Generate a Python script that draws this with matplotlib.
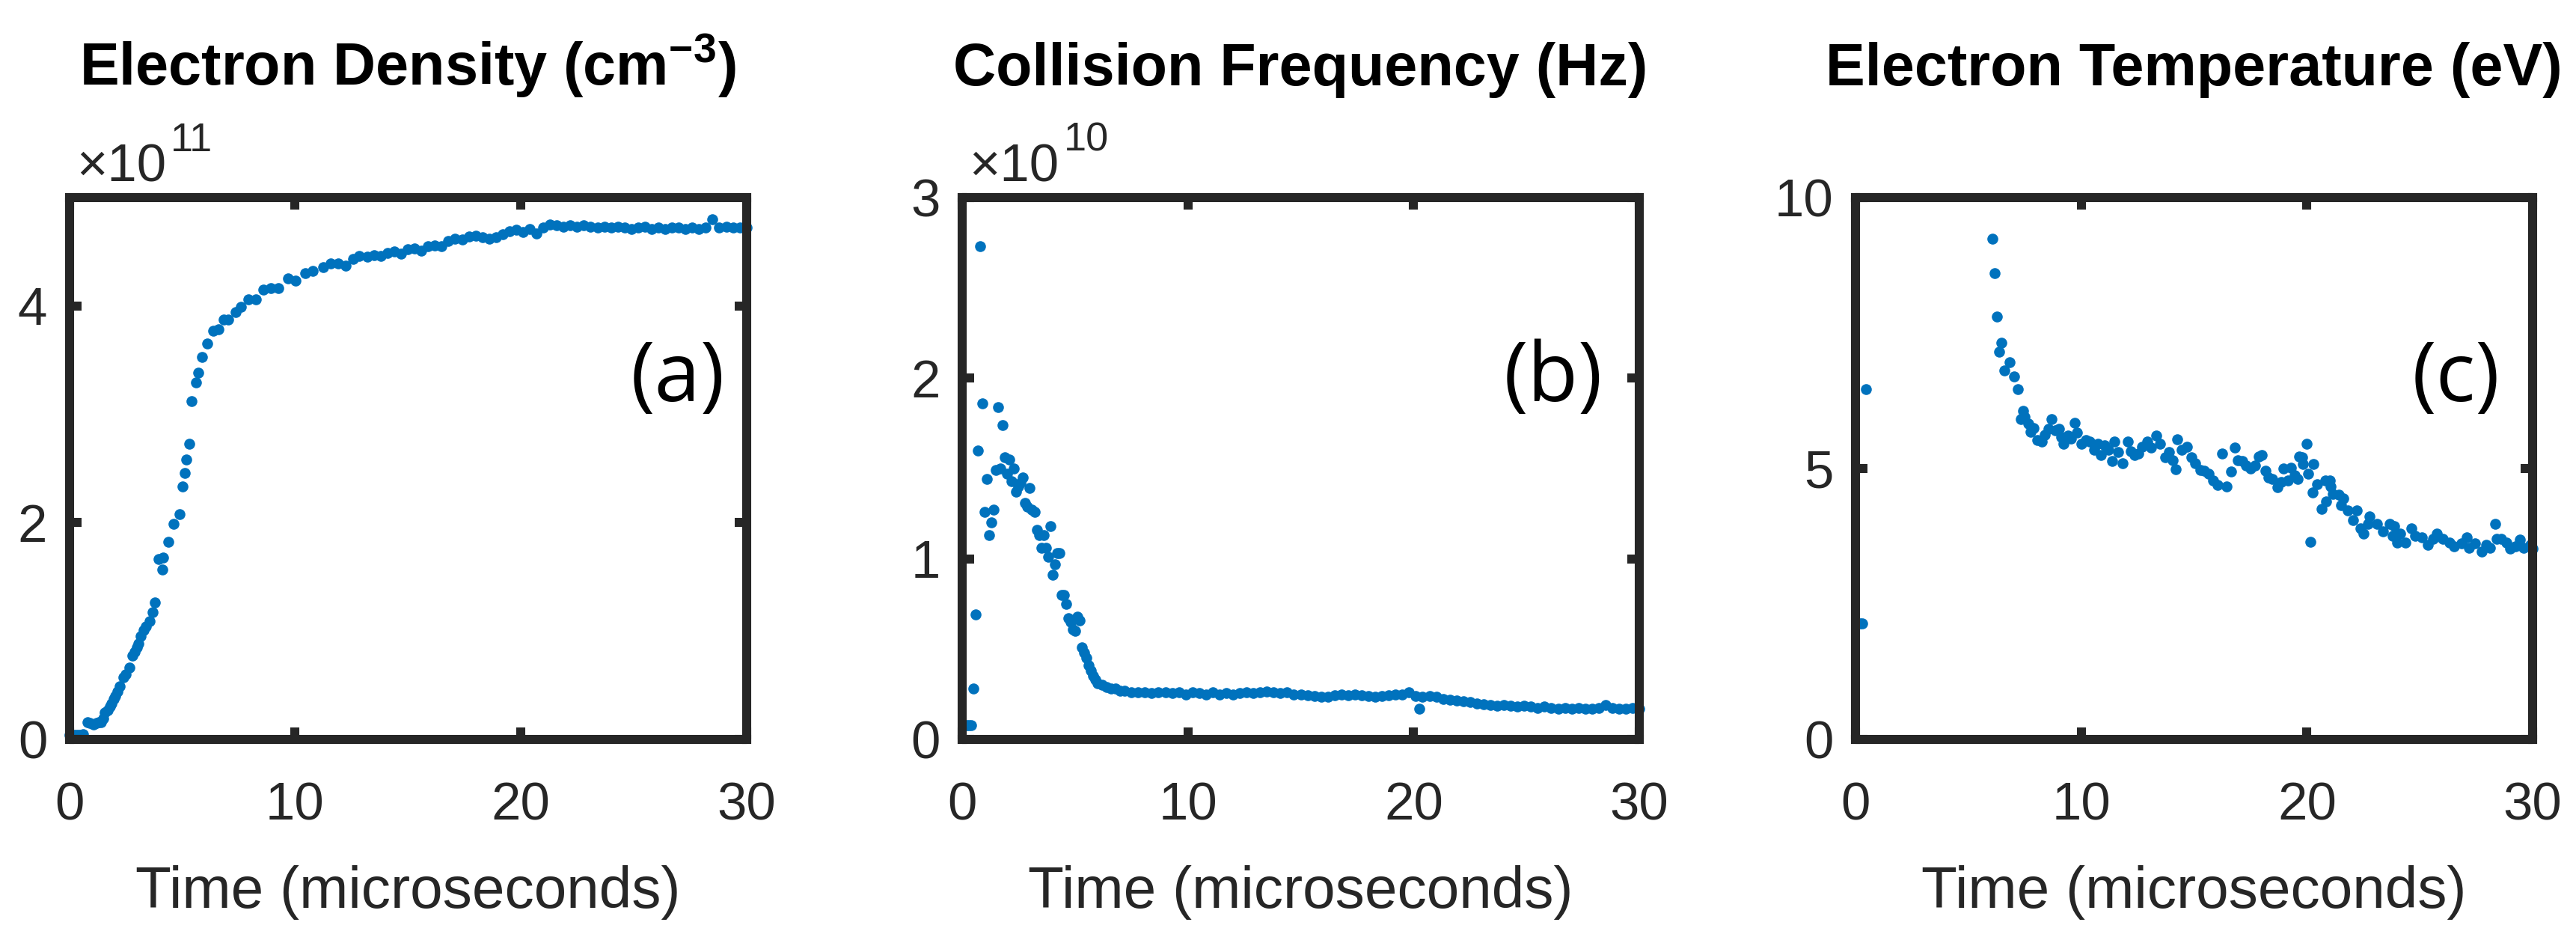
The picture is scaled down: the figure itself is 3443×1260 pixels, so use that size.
import numpy as np
import matplotlib
matplotlib.use('Agg')
import matplotlib.pyplot as plt

plt.rcParams['font.family'] = ['Liberation Sans', 'DejaVu Sans']
plt.rcParams['mathtext.fontset'] = 'custom'
plt.rcParams['mathtext.rm'] = 'Liberation Sans'
plt.rcParams['mathtext.bf'] = 'Liberation Sans:bold'

# Data
# (a) electron density, units of 1e11 cm^-3
time_a = [0.0, 0.1, 0.2, 0.3, 0.4, 0.5, 0.6, 0.8, 0.9, 1.08, 1.2, 1.3, 1.4, 1.5, 1.58,
          1.7, 1.8, 1.88, 1.96, 2.05, 2.13, 2.25, 2.4, 2.5, 2.67, 2.79, 2.9, 3.0, 3.07,
          3.18, 3.29, 3.4, 3.57, 3.68, 3.79, 3.95, 4.12, 4.16, 4.39, 4.62, 4.89, 5.03,
          5.11, 5.19, 5.32, 5.41, 5.61, 5.72, 5.89, 6.11, 6.38, 6.61, 6.83, 7.05, 7.38,
          7.6, 7.93, 8.26, 8.6, 8.93, 9.26, 9.7, 10.03, 10.47, 10.8, 11.25, 11.58, 11.9,
          12.24, 12.58, 12.85, 13.2, 13.5, 13.8, 14.1, 14.4, 14.7, 15.0, 15.3, 15.6,
          15.9, 16.2, 16.5, 16.8, 17.1, 17.4, 17.7, 18.0, 18.3, 18.6, 18.9, 19.2, 19.5,
          19.8, 20.1, 20.4, 20.7, 21.0, 21.3, 21.6, 21.9, 22.2, 22.5, 22.8, 23.1, 23.4,
          23.7, 24.0, 24.3, 24.6, 24.9, 25.2, 25.5, 25.8, 26.1, 26.4, 26.7, 27.0, 27.3,
          27.6, 27.9, 28.2, 28.5, 28.8, 29.1, 29.4, 29.7, 30.0]
density_e11 = [0.04, 0.04, 0.04, 0.04, 0.04, 0.04, 0.05, 0.16, 0.15, 0.14, 0.15, 0.16,
               0.16, 0.19, 0.25, 0.27, 0.30, 0.33, 0.37, 0.40, 0.44, 0.49, 0.57, 0.60,
               0.66, 0.77, 0.81, 0.85, 0.88, 0.95, 1.01, 1.04, 1.09, 1.17, 1.26, 1.66,
               1.57, 1.68, 1.82, 1.99, 2.08, 2.33, 2.46, 2.58, 2.73, 3.12, 3.29, 3.38,
               3.53, 3.65, 3.77, 3.78, 3.87, 3.87, 3.94, 3.99, 4.06, 4.06, 4.15, 4.16,
               4.16, 4.25, 4.23, 4.30, 4.32, 4.36, 4.39, 4.39, 4.37, 4.43, 4.46, 4.45,
               4.47, 4.46, 4.49, 4.50, 4.48, 4.52, 4.53, 4.51, 4.55, 4.56, 4.55, 4.60,
               4.62, 4.61, 4.64, 4.65, 4.63, 4.62, 4.63, 4.66, 4.69, 4.70, 4.68, 4.71,
               4.67, 4.72, 4.75, 4.74, 4.73, 4.74, 4.73, 4.74, 4.73, 4.72, 4.73, 4.72,
               4.73, 4.72, 4.71, 4.72, 4.73, 4.71, 4.72, 4.71, 4.72, 4.72, 4.71, 4.72,
               4.71, 4.72, 4.80, 4.72, 4.73, 4.72, 4.72, 4.72]

# (b) collision frequency, units of 1e10 Hz
time_b = [0.1, 0.2, 0.3, 0.4, 0.5, 0.6, 0.7, 0.8, 0.9, 1.0, 1.1, 1.2, 1.3, 1.4, 1.5,
          1.6, 1.7, 1.8, 1.9, 2.0, 2.1, 2.2, 2.3, 2.4, 2.5, 2.6, 2.7, 2.8, 2.9, 3.0,
          3.1, 3.2, 3.3, 3.4, 3.5, 3.6, 3.7, 3.8, 3.9, 4.0, 4.1, 4.2, 4.3, 4.4, 4.5,
          4.6, 4.7, 4.8, 4.9, 5.0, 5.1, 5.2, 5.3, 5.4, 5.5, 5.6, 5.7, 5.8, 5.9, 6.0,
          6.2, 6.4, 6.6, 6.8, 7.0, 7.2, 7.5, 7.8, 8.1, 8.4, 8.7, 9.0, 9.3, 9.6, 9.9,
          10.2, 10.5, 10.8, 11.1, 11.4, 11.7, 12.0, 12.3, 12.6, 12.9, 13.2, 13.5,
          13.8, 14.1, 14.4, 14.7, 15.0, 15.3, 15.6, 15.9, 16.2, 16.5, 16.8, 17.1,
          17.4, 17.7, 18.0, 18.3, 18.6, 18.9, 19.2, 19.5, 19.8, 20.1, 20.25, 20.4,
          20.7, 21.0, 21.3, 21.6, 21.9, 22.2, 22.5, 22.8, 23.1, 23.4, 23.7, 24.0,
          24.3, 24.6, 24.9, 25.2, 25.5, 25.8, 26.1, 26.4, 26.7, 27.0, 27.3, 27.6,
          27.9, 28.2, 28.5, 28.8, 29.1, 29.4, 29.7, 30.0]
collision_e10 = [0.08, 0.08, 0.08, 0.08, 0.28, 0.69, 1.60, 2.73, 1.86, 1.26, 1.44, 1.13,
                 1.20, 1.27, 1.49, 1.84, 1.50, 1.74, 1.56, 1.47, 1.55, 1.43, 1.50, 1.37,
                 1.40, 1.42, 1.45, 1.31, 1.29, 1.39, 1.27, 1.26, 1.16, 1.13, 1.06, 1.13,
                 1.06, 1.01, 1.18, 0.91, 0.97, 1.03, 1.03, 0.80, 0.80, 0.75, 0.67, 0.65,
                 0.61, 0.60, 0.68, 0.66, 0.51, 0.48, 0.45, 0.41, 0.38, 0.35, 0.33, 0.31,
                 0.30, 0.29, 0.28, 0.28, 0.27, 0.27, 0.26, 0.26, 0.26, 0.255, 0.26, 0.26,
                 0.255, 0.26, 0.25, 0.26, 0.255, 0.25, 0.26, 0.25, 0.255, 0.25, 0.255,
                 0.26, 0.255, 0.26, 0.265, 0.26, 0.255, 0.26, 0.25, 0.25, 0.245, 0.24,
                 0.235, 0.235, 0.245, 0.25, 0.245, 0.25, 0.245, 0.24, 0.235, 0.24, 0.245,
                 0.25, 0.25, 0.26, 0.24, 0.17, 0.235, 0.24, 0.235, 0.225, 0.22, 0.215,
                 0.21, 0.205, 0.20, 0.195, 0.19, 0.185, 0.19, 0.185, 0.18, 0.185, 0.18,
                 0.175, 0.18, 0.175, 0.17, 0.175, 0.17, 0.175, 0.17, 0.17, 0.175, 0.19,
                 0.175, 0.17, 0.17, 0.175, 0.17]

# (c) electron temperature, eV
time_c = [0.1, 0.2, 0.3, 0.45, 6.07, 6.17, 6.27, 6.37, 6.46, 6.6, 6.83, 7.03, 7.18,
          7.31, 7.41, 7.5, 7.66, 7.75, 7.9, 8.05, 8.25, 8.4, 8.54, 8.68, 8.85, 9.02,
          9.12, 9.21, 9.4, 9.55, 9.71, 9.81, 10.0, 10.2, 10.39, 10.58, 10.75, 10.87,
          11.05, 11.2, 11.36, 11.46, 11.65, 11.84, 12.05, 12.2, 12.35, 12.53, 12.7,
          12.92, 13.1, 13.31, 13.5, 13.71, 13.9, 14.05, 14.19, 14.25, 14.45, 14.68,
          14.88, 15.05, 15.27, 15.45, 15.65, 15.85, 16.05, 16.24, 16.44, 16.64, 16.79,
          16.95, 17.12, 17.3, 17.5, 17.7, 17.85, 18.0, 18.15, 18.28, 18.45, 18.68,
          18.85, 18.97, 19.16, 19.3, 19.45, 19.6, 19.65, 19.8, 19.83, 19.99, 20.05,
          20.16, 20.25, 20.3, 20.45, 20.66, 20.8, 20.86, 21.0, 21.05, 21.15, 21.4,
          21.5, 21.6, 21.8, 22.05, 22.2, 22.37, 22.5, 22.7, 22.77, 23.1, 23.37, 23.65,
          23.8, 23.87, 24.0, 24.14, 24.36, 24.64, 24.8, 25.08, 25.36, 25.58, 25.75,
          26.02, 26.3, 26.5, 26.85, 27.07, 27.18, 27.45, 27.74, 27.95, 28.1, 28.34,
          28.4, 28.6, 28.83, 29.0, 29.23, 29.43, 29.6, 29.9, 30.0]
temperature_ev = [2.14, 2.14, 2.14, 6.46, 9.24, 8.60, 7.80, 7.15, 7.32, 6.81, 6.96, 6.70,
                  6.46, 5.91, 6.06, 5.95, 5.82, 5.68, 5.75, 5.52, 5.50, 5.62, 5.73, 5.91,
                  5.70, 5.73, 5.58, 5.45, 5.60, 5.55, 5.84, 5.66, 5.45, 5.52, 5.50, 5.34,
                  5.45, 5.25, 5.42, 5.35, 5.13, 5.50, 5.30, 5.10, 5.50, 5.32, 5.25, 5.27,
                  5.40, 5.50, 5.38, 5.61, 5.45, 5.20, 5.30, 5.15, 4.99, 5.54, 5.35, 5.40,
                  5.20, 5.10, 4.97, 4.95, 4.90, 4.78, 4.70, 5.27, 4.67, 4.94, 5.39, 5.15,
                  5.13, 5.05, 5.00, 5.05, 5.22, 5.25, 4.95, 4.83, 4.80, 4.65, 4.75, 5.00,
                  4.77, 5.01, 4.87, 4.81, 5.22, 5.20, 5.08, 5.45, 4.90, 3.64, 4.56, 5.08,
                  4.71, 4.25, 4.78, 4.39, 4.78, 4.67, 4.53, 4.51, 4.32, 4.44, 4.23, 4.05,
                  4.23, 3.89, 3.80, 3.98, 4.12, 3.98, 3.84, 3.98, 3.75, 3.93, 3.63, 3.80,
                  3.63, 3.89, 3.75, 3.73, 3.59, 3.70, 3.80, 3.70, 3.63, 3.56, 3.61, 3.73,
                  3.54, 3.61, 3.47, 3.59, 3.54, 3.98, 3.70, 3.70, 3.63, 3.52, 3.56, 3.68,
                  3.54, 3.59, 3.52]

titles = [r'Electron Density (cm$^{\mathbf{-3}}$)', 'Collision Frequency (Hz)',
          'Electron Temperature (eV)']
panel_tags = ['(a)', '(b)', '(c)']
exponents = ['11', '10', None]
y_limits = [(0, 5), (0, 3), (0, 10)]
y_ticks = [[0, 2, 4], [0, 1, 2, 3], [0, 5, 10]]
tag_x = [0.898, 0.873, 0.887]

series = [(time_a, density_e11), (time_b, collision_e10), (time_c, temperature_ev)]

dark = '#262626'
blue = '#0072BD'

fig = plt.figure(figsize=(3443 / 300, 1260 / 300), dpi=300)
lefts = [0.02687, 0.3735, 0.7203]

for i in range(3):
    ax = fig.add_axes([lefts[i], 0.216, 0.2629, 0.5746])
    t, v = series[i]
    ax.plot(t, v, 'o', ms=3.5, mec='none', color=blue, clip_on=False, zorder=1)
    ax.set_xlim(0, 30)
    ax.set_ylim(*y_limits[i])
    ax.set_xticks([0, 10, 20, 30])
    ax.set_yticks(y_ticks[i])
    for s in ax.spines.values():
        s.set_linewidth(2.9)
        s.set_color(dark)
        s.set_zorder(3)
    ax.tick_params(direction='in', top=True, right=True, length=3.8, width=2.9,
                   colors=dark, labelsize=17)
    ax.tick_params(axis='x', pad=13.5)
    ax.tick_params(axis='y', pad=7)
    ax.set_title(titles[i], fontsize=19, fontweight='bold', color='black',
                 y=1.207, va='baseline', pad=0)
    ax.set_xlabel('Time (microseconds)', fontsize=18.8, color=dark)
    ax.xaxis.set_label_coords(0.5, -0.311)
    ax.xaxis.label.set_va('baseline')
    if exponents[i]:
        ax.text(0.0105, 1.029, '\u00d710', transform=ax.transAxes, fontsize=17,
                color=dark, va='baseline', ha='left')
        ax.text(0.150, 1.086, exponents[i], transform=ax.transAxes, fontsize=13,
                color=dark, va='baseline', ha='left')
    ax.text(tag_x[i], 0.664, panel_tags[i], transform=ax.transAxes, fontsize=26.5,
            family=['Open Sans', 'DejaVu Sans'], color='black', ha='center', va='center')

fig.savefig('out.png', dpi=300)
